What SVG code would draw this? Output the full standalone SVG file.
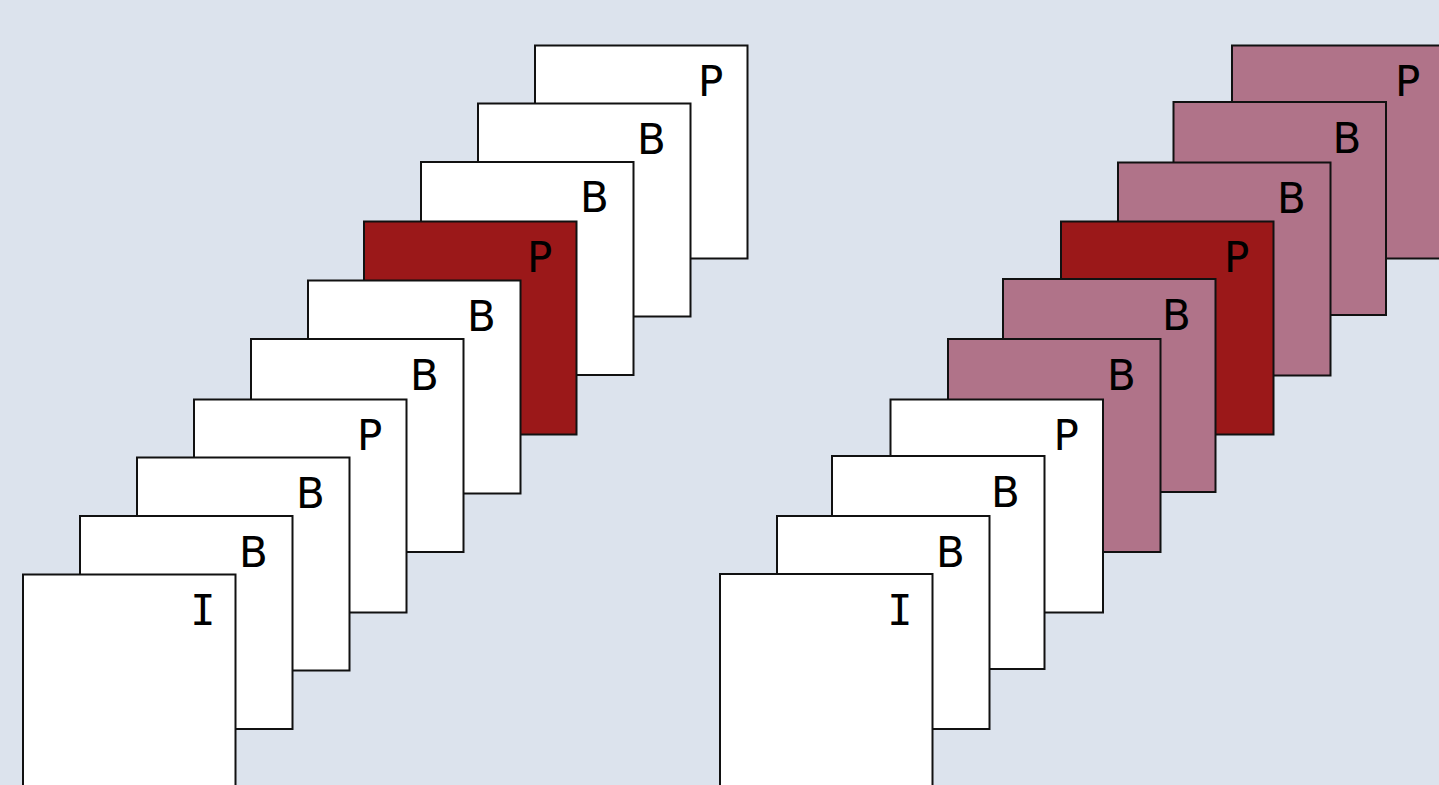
<svg xmlns="http://www.w3.org/2000/svg" width="1439" height="785" viewBox="0 0 1439 785">
  <style>
    .frame { stroke: #111; stroke-width: 2; }
    .plain { fill: #ffffff; }
    .ref { fill: #9b1819; }
    .dep { fill: #b07389; }
    .lbl { font-family: "DejaVu Sans", Verdana, sans-serif; font-size: 42px; fill: #000; }
    .lbl-i { font-family: "DejaVu Sans Mono", "DejaVu Sans", monospace; font-size: 42px; fill: #000; text-anchor: middle; }
  </style>
  <rect x="0" y="0" width="1439" height="785" fill="#dce3ed"/>

  <!-- Left sequence: back (top-right) to front (bottom-left) -->
  <g id="left-sequence">
    <g id="L10"><rect class="frame plain" x="535" y="45.5" width="212.5" height="213"/><text class="lbl" x="698" y="96">P</text></g>
    <g id="L9"><rect class="frame plain" x="478" y="103.5" width="212.5" height="213"/><text class="lbl" x="637" y="154">B</text></g>
    <g id="L8"><rect class="frame plain" x="421" y="162" width="212.5" height="213"/><text class="lbl" x="580" y="212">B</text></g>
    <g id="L7"><rect class="frame ref" x="364" y="221.5" width="212.5" height="213"/><text class="lbl" x="527" y="272">P</text></g>
    <g id="L6"><rect class="frame plain" x="308" y="280.5" width="212.5" height="213"/><text class="lbl" x="467" y="331">B</text></g>
    <g id="L5"><rect class="frame plain" x="251" y="339" width="212.5" height="213"/><text class="lbl" x="410" y="390">B</text></g>
    <g id="L4"><rect class="frame plain" x="194" y="399.5" width="212.5" height="213"/><text class="lbl" x="357" y="450">P</text></g>
    <g id="L3"><rect class="frame plain" x="137" y="457.5" width="212.5" height="213"/><text class="lbl" x="296" y="508">B</text></g>
    <g id="L2"><rect class="frame plain" x="80" y="516" width="212.5" height="213"/><text class="lbl" x="239" y="567">B</text></g>
    <g id="L1"><rect class="frame plain" x="23" y="574.5" width="212.5" height="213"/><text class="lbl-i" x="203" y="625">I</text></g>
  </g>

  <!-- Right sequence: back (top-right) to front (bottom-left) -->
  <g id="right-sequence">
    <g id="R10"><rect class="frame dep" x="1232" y="45.5" width="212.5" height="213"/><text class="lbl" x="1395" y="96">P</text></g>
    <g id="R9"><rect class="frame dep" x="1173.5" y="102" width="212.5" height="213"/><text class="lbl" x="1332.5" y="153">B</text></g>
    <g id="R8"><rect class="frame dep" x="1118" y="162.5" width="212.5" height="213"/><text class="lbl" x="1277" y="213">B</text></g>
    <g id="R7"><rect class="frame ref" x="1061" y="221.5" width="212.5" height="213"/><text class="lbl" x="1224" y="272">P</text></g>
    <g id="R6"><rect class="frame dep" x="1003" y="279" width="212.5" height="213"/><text class="lbl" x="1162" y="330">B</text></g>
    <g id="R5"><rect class="frame dep" x="948" y="339" width="212.5" height="213"/><text class="lbl" x="1107" y="390">B</text></g>
    <g id="R4"><rect class="frame plain" x="890.5" y="399.5" width="212.5" height="213"/><text class="lbl" x="1053.5" y="450">P</text></g>
    <g id="R3"><rect class="frame plain" x="832" y="456" width="212.5" height="213"/><text class="lbl" x="991" y="507">B</text></g>
    <g id="R2"><rect class="frame plain" x="777" y="516" width="212.5" height="213"/><text class="lbl" x="936" y="567">B</text></g>
    <g id="R1"><rect class="frame plain" x="720" y="574" width="212.5" height="213"/><text class="lbl-i" x="900" y="625">I</text></g>
  </g>
</svg>
